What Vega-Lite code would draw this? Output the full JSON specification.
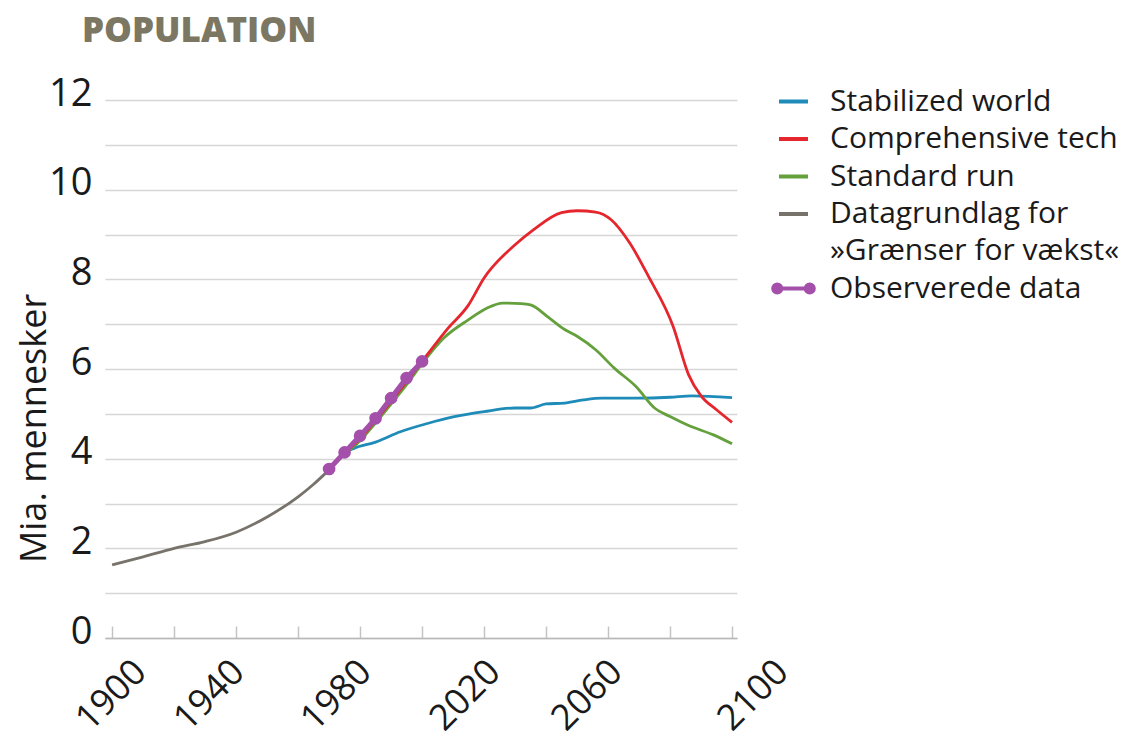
{
  "$schema": "https://vega.github.io/schema/vega-lite/v6.json",
  "autosize": {"type": "none"},
  "padding": {"left": 105, "top": 100, "right": 404, "bottom": 105},
  "width": 632,
  "height": 538,
  "background": "white",
  "title": {
    "text": "POPULATION",
    "anchor": "start",
    "frame": "group",
    "font": "Open Sans",
    "fontSize": 35,
    "fontWeight": 800,
    "color": "#7b7763",
    "dx": -23,
    "offset": 26
  },
  "config": {
    "view": {"stroke": null},
    "font": "Open Sans"
  },
  "data": {
    "values": [
      {"series": "Datagrundlag for »Grænser for vækst«", "year": 1900, "value": 1.63},
      {"series": "Datagrundlag for »Grænser for vækst«", "year": 1910, "value": 1.81},
      {"series": "Datagrundlag for »Grænser for vækst«", "year": 1920, "value": 2.0},
      {"series": "Datagrundlag for »Grænser for vækst«", "year": 1930, "value": 2.15},
      {"series": "Datagrundlag for »Grænser for vækst«", "year": 1940, "value": 2.36},
      {"series": "Datagrundlag for »Grænser for vækst«", "year": 1950, "value": 2.7},
      {"series": "Datagrundlag for »Grænser for vækst«", "year": 1960, "value": 3.15},
      {"series": "Datagrundlag for »Grænser for vækst«", "year": 1965, "value": 3.43},
      {"series": "Datagrundlag for »Grænser for vækst«", "year": 1970, "value": 3.75},

      {"series": "Stabilized world", "year": 1970, "value": 3.75},
      {"series": "Stabilized world", "year": 1975, "value": 4.13},
      {"series": "Stabilized world", "year": 1978, "value": 4.23},
      {"series": "Stabilized world", "year": 1985, "value": 4.37},
      {"series": "Stabilized world", "year": 1993, "value": 4.6},
      {"series": "Stabilized world", "year": 2002, "value": 4.79},
      {"series": "Stabilized world", "year": 2010, "value": 4.93},
      {"series": "Stabilized world", "year": 2020, "value": 5.05},
      {"series": "Stabilized world", "year": 2030, "value": 5.13},
      {"series": "Stabilized world", "year": 2035, "value": 5.13},
      {"series": "Stabilized world", "year": 2040, "value": 5.22},
      {"series": "Stabilized world", "year": 2046, "value": 5.24},
      {"series": "Stabilized world", "year": 2052, "value": 5.31},
      {"series": "Stabilized world", "year": 2058, "value": 5.35},
      {"series": "Stabilized world", "year": 2069, "value": 5.35},
      {"series": "Stabilized world", "year": 2080, "value": 5.37},
      {"series": "Stabilized world", "year": 2087, "value": 5.4},
      {"series": "Stabilized world", "year": 2100, "value": 5.36},

      {"series": "Standard run", "year": 1970, "value": 3.75},
      {"series": "Standard run", "year": 1975, "value": 4.1},
      {"series": "Standard run", "year": 1980, "value": 4.4},
      {"series": "Standard run", "year": 1985, "value": 4.8},
      {"series": "Standard run", "year": 1990, "value": 5.22},
      {"series": "Standard run", "year": 1995, "value": 5.65},
      {"series": "Standard run", "year": 2000, "value": 6.12},
      {"series": "Standard run", "year": 2007, "value": 6.69},
      {"series": "Standard run", "year": 2015, "value": 7.1},
      {"series": "Standard run", "year": 2021, "value": 7.36},
      {"series": "Standard run", "year": 2026, "value": 7.47},
      {"series": "Standard run", "year": 2032, "value": 7.46},
      {"series": "Standard run", "year": 2035, "value": 7.43},
      {"series": "Standard run", "year": 2041, "value": 7.14},
      {"series": "Standard run", "year": 2046, "value": 6.88},
      {"series": "Standard run", "year": 2050, "value": 6.73},
      {"series": "Standard run", "year": 2056, "value": 6.43},
      {"series": "Standard run", "year": 2062, "value": 6.02},
      {"series": "Standard run", "year": 2069, "value": 5.61},
      {"series": "Standard run", "year": 2075, "value": 5.13},
      {"series": "Standard run", "year": 2080, "value": 4.94},
      {"series": "Standard run", "year": 2086, "value": 4.74},
      {"series": "Standard run", "year": 2094, "value": 4.53},
      {"series": "Standard run", "year": 2100, "value": 4.33},

      {"series": "Comprehensive tech", "year": 1970, "value": 3.75},
      {"series": "Comprehensive tech", "year": 1975, "value": 4.12},
      {"series": "Comprehensive tech", "year": 1980, "value": 4.45},
      {"series": "Comprehensive tech", "year": 1985, "value": 4.85},
      {"series": "Comprehensive tech", "year": 1990, "value": 5.28},
      {"series": "Comprehensive tech", "year": 1995, "value": 5.72},
      {"series": "Comprehensive tech", "year": 2000, "value": 6.17},
      {"series": "Comprehensive tech", "year": 2008, "value": 6.88},
      {"series": "Comprehensive tech", "year": 2015, "value": 7.43},
      {"series": "Comprehensive tech", "year": 2020, "value": 8.03},
      {"series": "Comprehensive tech", "year": 2030, "value": 8.77},
      {"series": "Comprehensive tech", "year": 2036, "value": 9.11},
      {"series": "Comprehensive tech", "year": 2045, "value": 9.49},
      {"series": "Comprehensive tech", "year": 2050, "value": 9.53},
      {"series": "Comprehensive tech", "year": 2056, "value": 9.5},
      {"series": "Comprehensive tech", "year": 2061, "value": 9.33},
      {"series": "Comprehensive tech", "year": 2067, "value": 8.81},
      {"series": "Comprehensive tech", "year": 2073, "value": 8.07},
      {"series": "Comprehensive tech", "year": 2081, "value": 6.95},
      {"series": "Comprehensive tech", "year": 2086, "value": 5.87},
      {"series": "Comprehensive tech", "year": 2090, "value": 5.4},
      {"series": "Comprehensive tech", "year": 2095, "value": 5.09},
      {"series": "Comprehensive tech", "year": 2100, "value": 4.81},

      {"series": "Observerede data", "year": 1970, "value": 3.77},
      {"series": "Observerede data", "year": 1975, "value": 4.14},
      {"series": "Observerede data", "year": 1980, "value": 4.51},
      {"series": "Observerede data", "year": 1985, "value": 4.9},
      {"series": "Observerede data", "year": 1990, "value": 5.35},
      {"series": "Observerede data", "year": 1995, "value": 5.8},
      {"series": "Observerede data", "year": 2000, "value": 6.17}
    ]
  },
  "encoding": {
    "x": {
      "field": "year",
      "type": "quantitative",
      "scale": {"domain": [1897.7, 2101.6], "nice": false, "zero": false},
      "axis": {
        "title": null,
        "values": [1900, 1920, 1940, 1960, 1980, 2000, 2020, 2040, 2060, 2080, 2100],
        "labelExpr": "datum.value % 40 == 0 ? '' : datum.label",
        "format": "d",
        "grid": false,
        "domainColor": "#b8b8b8",
        "domainWidth": 1.5,
        "tickColor": "#c4c4c4",
        "tickWidth": 1.5,
        "tickSize": -12,
        "labelAngle": -45,
        "labelAlign": "right",
        "labelBaseline": "middle",
        "labelFontSize": 36,
        "labelColor": "#1a1a1a",
        "labelPadding": 40,
        "labelOffset": {"expr": "datum.value == 1900 ? 28 : datum.value == 1940 ? 2 : datum.value == 1980 ? 5 : datum.value == 2020 ? 10 : datum.value == 2060 ? 8 : datum.value == 2100 ? 50 : 10"},
        "labelFlush": false,
        "labelOverlap": false
      }
    },
    "y": {
      "field": "value",
      "type": "quantitative",
      "scale": {"domain": [0, 12], "nice": false},
      "axis": {
        "title": "Mia. mennesker",
        "titleFontSize": 36,
        "titleFontWeight": "normal",
        "titleColor": "#1a1a1a",
        "titleAngle": -90,
        "titleBaseline": "alphabetic",
        "titleAlign": "center",
        "titleX": -60,
        "titleY": 328,
        "values": [0, 1, 2, 3, 4, 5, 6, 7, 8, 9, 10, 11, 12],
        "labelExpr": "datum.value % 2 == 0 ? datum.label : ''",
        "domain": false,
        "ticks": false,
        "grid": true,
        "gridColor": "#d6d6d6",
        "gridWidth": 1.5,
        "labelFontSize": 38,
        "labelColor": "#1a1a1a",
        "labelPadding": 13,
        "labelOffset": -6,
        "labelBaseline": "middle"
      }
    },
    "color": {
      "field": "series",
      "type": "nominal",
      "scale": {
        "domain": ["Stabilized world", "Comprehensive tech", "Standard run", "Datagrundlag for »Grænser for vækst«", "Observerede data"],
        "range": ["#1f8bb8", "#e5262d", "#64a03c", "#77736a", "#a450ab"]
      },
      "legend": {
        "title": null,
        "orient": "none",
        "legendX": 672,
        "legendY": -15,
        "padding": 0,
        "symbolType": "stroke",
        "symbolSize": 841,
        "symbolStrokeWidth": 4,
        "labelFontSize": 30,
        "labelColor": "#1a1a1a",
        "labelOffset": 20,
        "rowPadding": 5.5,
        "labelLimit": 400,
        "labelExpr": "datum.value == 'Datagrundlag for »Grænser for vækst«' ? ['Datagrundlag for', '»Grænser for vækst«'] : datum.label",
        "encode": {
          "symbols": {
            "update": {
              "shape": {"signal": "datum.value == 'Observerede data' ? 'M-1.1,0L1.1,0M-1.4,0a0.28,0.28 0 1,0 0.56,0a0.28,0.28 0 1,0 -0.56,0M0.84,0a0.28,0.28 0 1,0 0.56,0a0.28,0.28 0 1,0 -0.56,0' : 'stroke'"},
              "fill": {"signal": "datum.value == 'Observerede data' ? '#a450ab' : 'transparent'"}
            }
          },
          "labels": {
            "update": {"lineHeight": {"value": 37}}
          }
        }
      }
    }
  },
  "layer": [
    {
      "transform": [{"filter": "datum.series != 'Observerede data'"}],
      "mark": {"type": "line", "strokeWidth": 2.8, "interpolate": "monotone"}
    },
    {
      "transform": [{"filter": "datum.series == 'Observerede data'"}],
      "mark": {"type": "line", "strokeWidth": 5}
    },
    {
      "transform": [{"filter": "datum.series == 'Observerede data'"}],
      "mark": {"type": "point", "filled": true, "opacity": 1, "size": 160}
    }
  ]
}
